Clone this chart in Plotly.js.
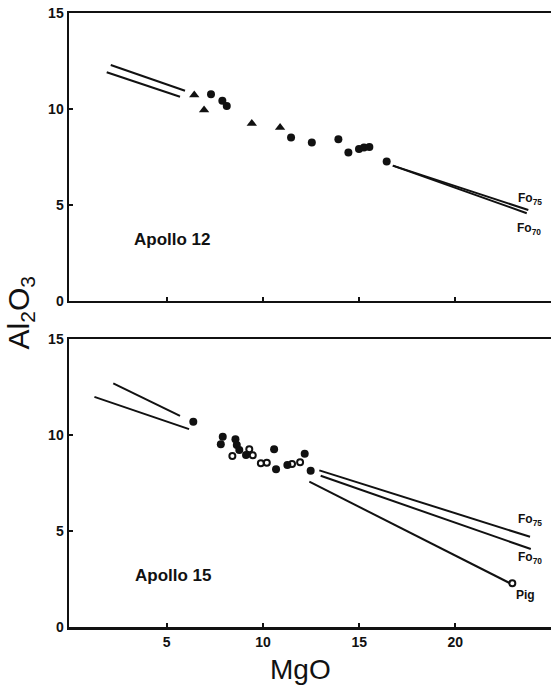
<!DOCTYPE html>
<html>
<head>
<meta charset="utf-8">
<script src="https://cdn.plot.ly/plotly-3.0.1.min.js"></script>
<style>html,body{margin:0;padding:0;background:#fff;}#chart{width:551px;height:688px;}</style>
</head>
<body>
<div id="chart"></div>
<script>
// ---------- Apollo 12 (top panel) ----------
const a12CircleMgO = [7.30, 7.89, 8.12, 11.46, 12.54, 13.92, 14.44, 14.99, 15.25, 15.53, 16.43];
const a12CircleAl  = [10.77, 10.43, 10.16, 8.51, 8.25, 8.42, 7.74, 7.92, 7.99, 8.02, 7.26];
const a12TriMgO = [6.43, 6.94, 9.42, 10.89];
const a12TriAl  = [10.73, 9.95, 9.25, 9.03];
const a12LineUpperMgO = [2.09, 5.95];
const a12LineUpperAl  = [12.29, 10.95];
const a12LineLowerMgO = [1.88, 5.69];
const a12LineLowerAl  = [11.91, 10.64];
const a12Fo75MgO = [16.75, 23.79];
const a12Fo75Al  = [7.05, 4.74];
const a12Fo70MgO = [16.75, 23.71];
const a12Fo70Al  = [7.05, 4.57];

// ---------- Apollo 15 (bottom panel) ----------
const a15FilledMgO = [6.38, 7.91, 7.81, 8.57, 8.64, 8.77, 9.12, 10.58, 10.68, 11.27, 12.17, 12.48];
const a15FilledAl  = [10.69, 9.91, 9.52, 9.78, 9.48, 9.22, 8.96, 9.26, 8.22, 8.44, 9.03, 8.14];
const a15OpenMgO = [8.41, 9.29, 9.47, 9.89, 10.20, 11.51, 11.93, 22.96];
const a15OpenAl  = [8.91, 9.26, 8.94, 8.53, 8.56, 8.49, 8.58, 2.28];
const a15LineUpperMgO = [2.22, 5.69];
const a15LineUpperAl  = [12.69, 11.00];
const a15LineLowerMgO = [1.24, 6.16];
const a15LineLowerAl  = [11.99, 10.31];
const a15Fo75MgO = [12.93, 23.88];
const a15Fo75Al  = [8.16, 4.70];
const a15Fo70MgO = [13.00, 23.92];
const a15Fo70Al  = [7.88, 4.06];
const a15PigMgO = [12.41, 22.84];
const a15PigAl  = [7.57, 2.28];

const xTicks = [5, 10, 15, 20];
const xTickText = ['5', '10', '15', '20'];
const yTicks = [0, 5, 10, 15];
const yTickText = ['0', '5', '10', '15'];

const FONT = 'Liberation Sans, Arial, sans-serif';
const lineStyle = {color: '#111', width: 2};

function line(x, y, xa, ya) {
  return {x: x, y: y, xaxis: xa, yaxis: ya, mode: 'lines', line: lineStyle, hoverinfo: 'skip', showlegend: false};
}

const traces = [
  // top
  line(a12LineUpperMgO, a12LineUpperAl, 'x2', 'y2'),
  line(a12LineLowerMgO, a12LineLowerAl, 'x2', 'y2'),
  line(a12Fo75MgO, a12Fo75Al, 'x2', 'y2'),
  line(a12Fo70MgO, a12Fo70Al, 'x2', 'y2'),
  {x: a12CircleMgO, y: a12CircleAl, xaxis: 'x2', yaxis: 'y2', mode: 'markers', showlegend: false,
   marker: {symbol: 'circle', size: 8, color: '#111'}},
  {x: a12TriMgO, y: a12TriAl, xaxis: 'x2', yaxis: 'y2', mode: 'markers', showlegend: false,
   marker: {symbol: 'triangle-up', size: 9, color: '#111'}},
  // bottom
  line(a15LineUpperMgO, a15LineUpperAl, 'x', 'y'),
  line(a15LineLowerMgO, a15LineLowerAl, 'x', 'y'),
  line(a15Fo75MgO, a15Fo75Al, 'x', 'y'),
  line(a15Fo70MgO, a15Fo70Al, 'x', 'y'),
  line(a15PigMgO, a15PigAl, 'x', 'y'),
  {x: a15FilledMgO, y: a15FilledAl, xaxis: 'x', yaxis: 'y', mode: 'markers', showlegend: false,
   marker: {symbol: 'circle', size: 8, color: '#111'}},
  {x: a15OpenMgO, y: a15OpenAl, xaxis: 'x', yaxis: 'y', mode: 'markers', showlegend: false,
   marker: {symbol: 'circle-open', size: 6, color: '#111', line: {width: 2, color: '#111'}}}
];

const xRange = [-0.08, 24.97];
const axisCommon = {
  showgrid: false, zeroline: false, showline: true, linecolor: '#111', linewidth: 2.5,
  ticks: 'inside', ticklen: 4, tickwidth: 2, tickcolor: '#111',
  tickfont: {family: FONT, size: 14, color: '#111'}
};

const layout = {
  width: 551, height: 688,
  margin: {l: 69, r: 0, t: 13, b: 61},
  paper_bgcolor: '#fff', plot_bgcolor: '#fff',
  showlegend: false,
  font: {family: FONT, color: '#111'},
  xaxis: Object.assign({}, axisCommon, {domain: [0, 1], range: xRange, anchor: 'y', mirror: true,
    tickmode: 'array', tickvals: xTicks, ticktext: xTickText.map(t => '<b>' + t + '</b>'), ticklabelstandoff: 1}),
  yaxis: Object.assign({}, axisCommon, {domain: [0, 0.469], range: [0, 15], anchor: 'x',
    tickmode: 'array', tickvals: yTicks, ticktext: yTickText.map(t => '<b>' + t + '</b>'), ticklabelstandoff: 0}),
  xaxis2: Object.assign({}, axisCommon, {domain: [0, 1], range: xRange, anchor: 'y2', mirror: true,
    tickmode: 'array', tickvals: xTicks, showticklabels: false}),
  yaxis2: Object.assign({}, axisCommon, {domain: [0.531, 1], range: [0, 15], anchor: 'x2',
    tickmode: 'array', tickvals: yTicks, ticktext: yTickText.map(t => '<b>' + t + '</b>'), ticklabelstandoff: 0}),
  annotations: [
    {xref: 'paper', yref: 'paper', x: -0.1, y: 0.512, xanchor: 'center', yanchor: 'middle',
     text: 'Al<sub style="font-size:24px">2</sub>O<sub style="font-size:24px">3</sub>', textangle: -90, showarrow: false,
     font: {family: FONT, size: 30, color: '#111'}},
    {xref: 'paper', yref: 'paper', x: 0.481, y: -0.07, xanchor: 'center', yanchor: 'middle',
     text: 'MgO', showarrow: false, font: {family: FONT, size: 28, color: '#111'}},
    {xref: 'x2', yref: 'y2', x: 5.28, y: 3.18, text: '<b>Apollo 12</b>', showarrow: false,
     font: {family: FONT, size: 17, color: '#111'}},
    {xref: 'x', yref: 'y', x: 5.33, y: 2.66, text: '<b>Apollo 15</b>', showarrow: false,
     font: {family: FONT, size: 17, color: '#111'}},
    {xref: 'x2', yref: 'y2', x: 23.88, y: 5.31, text: '<b>Fo<sub>75</sub></b>', showarrow: false,
     font: {family: FONT, size: 12, color: '#111'}},
    {xref: 'x2', yref: 'y2', x: 23.83, y: 3.75, text: '<b>Fo<sub>70</sub></b>', showarrow: false,
     font: {family: FONT, size: 12, color: '#111'}},
    {xref: 'x', yref: 'y', x: 23.88, y: 5.57, text: '<b>Fo<sub>75</sub></b>', showarrow: false,
     font: {family: FONT, size: 12, color: '#111'}},
    {xref: 'x', yref: 'y', x: 23.88, y: 3.59, text: '<b>Fo<sub>70</sub></b>', showarrow: false,
     font: {family: FONT, size: 12, color: '#111'}},
    {xref: 'x', yref: 'y', x: 23.62, y: 1.67, text: '<b>Pig</b>', showarrow: false,
     font: {family: FONT, size: 12, color: '#111'}}
  ]
};

Plotly.newPlot('chart', traces, layout, {displayModeBar: false, staticPlot: true});
</script>
</body>
</html>
